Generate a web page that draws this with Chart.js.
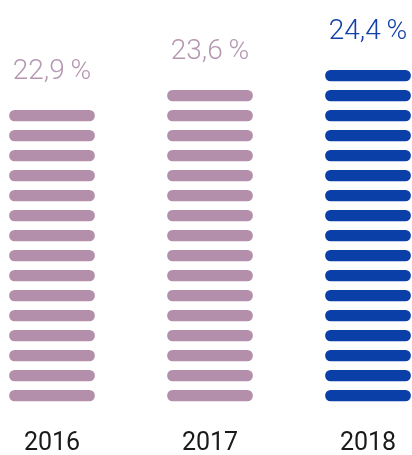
<!DOCTYPE html>
<html><head><meta charset="utf-8">
<script src="https://cdn.jsdelivr.net/npm/chart.js@4"></script>
<style>html,body{margin:0;padding:0;background:#fff}#wrap{width:412px;height:455px}</style>
</head><body><div id="wrap"><canvas id="c"></canvas></div>
<script>
const categories = ["2016", "2017", "2018"];
const shares = [22.9, 23.6, 24.4];
const stripeCounts = [15, 16, 17];
const colors = ["#b48fab", "#b48fab", "#0a3fa8"];
const labelColors = ["#b597b1", "#b597b1", "#1240a6"];

const maxStripes = Math.max(...stripeCounts);
const datasets = [];
for (let k = 0; k < maxStripes; k++) {
  datasets.push({
    data: stripeCounts.map(n => k < n ? [k, k + 0.53] : null),
    backgroundColor: colors,
    borderRadius: 6,
    borderSkipped: false,
    barThickness: 85,
    clip: false,
    grouped: false
  });
}

const pctPlugin = {
  id: 'pct',
  afterDatasetsDraw(chart) {
    const ctx = chart.ctx;
    ctx.save();
    ctx.font = '300 28px Roboto';
    ctx.textAlign = 'center';
    ctx.textBaseline = 'alphabetic';
    shares.forEach((v, i) => {
      const el = chart.getDatasetMeta(stripeCounts[i] - 1).data[i];
      const top = Math.min(el.y, el.base);
      ctx.fillStyle = labelColors[i];
      ctx.fillText(v.toFixed(1).replace('.', ',') + '\u2009%', el.x, top - 31);
    });
    ctx.restore();
  }
};

new Chart(document.getElementById('c'), {
  type: 'bar',
  data: { labels: categories, datasets },
  options: {
    responsive: true,
    maintainAspectRatio: false,
    animation: false,
    layout: { padding: { left: 52, right: 44, top: 41, bottom: 0 } },
    plugins: { legend: { display: false }, tooltip: { enabled: false } },
    scales: {
      x: {
        offset: false,
        grid: { display: false, drawTicks: false },
        border: { display: false },
        ticks: { color: '#1a1a1a', padding: 28, maxRotation: 0, font: { family: 'Roboto', size: 25 } },
        afterFit(scale) { scale.height = 54; scale.paddingLeft = 0; scale.paddingRight = 0; }
      },
      y: { display: false, min: 0, max: 18 }
    }
  },
  plugins: [pctPlugin]
});
</script></body></html>
